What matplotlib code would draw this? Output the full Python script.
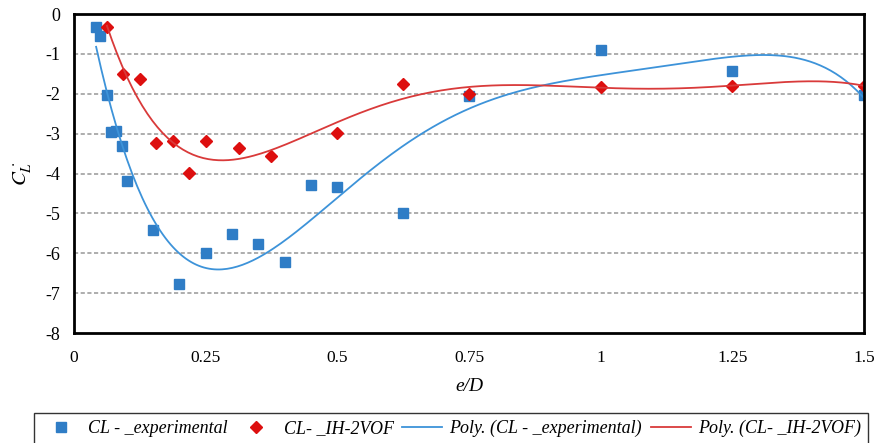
import numpy as np
import matplotlib.pyplot as plt

plt.rcParams['font.family'] = ['Liberation Serif', 'DejaVu Serif']
plt.rcParams['mathtext.fontset'] = 'stix'
plt.rcParams['axes.unicode_minus'] = False

# experimental lift coefficient
expX = [0.042, 0.05, 0.0625, 0.071, 0.08, 0.092, 0.1, 0.15, 0.2, 0.25, 0.3,
        0.35, 0.4, 0.45, 0.5, 0.625, 0.75, 1.0, 1.25, 1.5]
expY = [-0.33, -0.55, -2.03, -2.97, -2.94, -3.30, -4.18, -5.41, -6.77, -5.99,
        -5.51, -5.76, -6.21, -4.30, -4.35, -5.00, -2.06, -0.90, -1.43, -2.04]

# IH-2VOF numerical lift coefficient
numX = [0.0625, 0.09375, 0.125, 0.15625, 0.1875, 0.21875, 0.25, 0.3125, 0.375,
        0.5, 0.625, 0.75, 1.0, 1.25, 1.5]
numY = [-0.32, -1.50, -1.64, -3.23, -3.19, -3.99, -3.18, -3.37, -3.56,
        -2.99, -1.76, -2.01, -1.82, -1.80, -1.80]

blue = "#2F7DC6"
red = "#DD0F0F"
blueLine = "#3D93D9"
redLine = "#D93A3A"


#excel style polynomial trendline over the data range
def trend(x, y, deg):
    coef = np.polyfit(x, y, deg)
    xs = np.linspace(min(x), max(x), 300)
    return xs, np.polyval(coef, xs)


def main():
    fig = plt.figure(figsize=(8.75, 4.43), dpi=100)
    ax = fig.add_axes([74/875, 1-333/443, 790/875, 319/443])

    ax.plot(expX, expY, 's', color=blue, markersize=7, linestyle='none', label='CL - _experimental')
    ax.plot(numX, numY, 'D', color=red, markersize=6.5, linestyle='none', label='CL- _IH-2VOF')

    tx, ty = trend(expX, expY, 5)
    ax.plot(tx, ty, color=blueLine, lw=1.3, label='Poly. (CL - _experimental)')
    tx, ty = trend(numX, numY, 6)
    ax.plot(tx, ty, color=redLine, lw=1.3, label='Poly. (CL- _IH-2VOF)')

    ax.set_xlim(0, 1.5)
    ax.set_ylim(-8, 0)
    ax.set_xticks([0, 0.25, 0.5, 0.75, 1, 1.25, 1.5])
    ax.set_xticklabels(['0', '0.25', '0.5', '0.75', '1', '1.25', '1.5'])
    ax.set_yticks(range(-8, 1))
    ax.tick_params(axis='x', length=0, labelsize=12.5, pad=12)
    ax.tick_params(axis='y', length=0, labelsize=13, pad=10)
    for y in range(-7, 0):
        ax.axhline(y, color='#a0a0a0', lw=1.2, ls=(0, (2.5, 1.5)), zorder=0)
    for s in ax.spines.values():
        s.set_linewidth(2)
        s.set_color('black')

    ax.set_xlabel('e/D', fontsize=14, style='italic', labelpad=9)
    ax.set_ylabel(r'$C_L^{\,\cdot}$', fontsize=15, labelpad=8)

    leg = fig.legend(loc='upper left', bbox_to_anchor=(34/875, 0.0, 834/875, 0.068),
                     mode='expand', ncol=4, frameon=True, fancybox=False,
                     prop={'style': 'italic', 'size': 13}, handlelength=2.2,
                     handletextpad=0.4, columnspacing=0.6, borderaxespad=0)
    leg.get_frame().set_edgecolor('black')
    leg.get_frame().set_linewidth(1)

    fig.savefig('out.png', dpi=100)


if __name__ == "__main__":
    main()
